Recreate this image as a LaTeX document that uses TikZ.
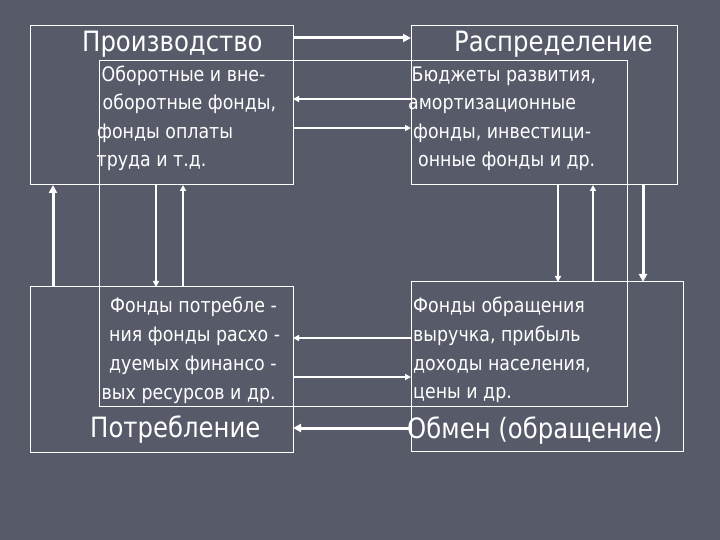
\documentclass[tikz,border=0pt]{standalone}
\usepackage{fontspec}
\setmainfont{DejaVu Sans}[FakeStretch=0.87]
\usetikzlibrary{arrows.meta,calc}
\definecolor{bgc}{HTML}{575A69}
\begin{document}
\begin{tikzpicture}[x=1bp,y=-1bp,
  box/.style={draw=white,line width=1bp,inner sep=0pt,outer sep=0pt,rectangle},
  thinarr/.style={draw=white,line width=1.6bp,-{Triangle[length=6bp,width=6bp]}},
  thickarr/.style={draw=white,line width=3bp,-{Triangle[length=8bp,width=8bp]}},
  big/.style={text=white,inner sep=0pt,anchor=base west,font=\fontsize{28bp}{30bp}\selectfont},
  small/.style={text=white,inner sep=0pt,anchor=base west,font=\fontsize{20bp}{22bp}\selectfont}]
\fill[bgc] (0,0) rectangle (720,540);
\useasboundingbox (0,0) rectangle (720,540);
% boxes
\node[box,minimum width=262bp,minimum height=159bp] (prod) at (162,105.5) {};
\node[box,minimum width=266bp,minimum height=159bp] (dist) at (544,105.5) {};
\node[box,minimum width=262bp,minimum height=165bp] (cons) at (162,369.5) {};
\node[box,minimum width=272bp,minimum height=169bp] (exch) at (547,366.5) {};
\node[box,minimum width=527bp,minimum height=345bp] (inner) at (363.5,233.5) {};
% titles
\node[big] (tprod) at (82,51.5) {Производство};
\node[big] (tdist) at (454,51.5) {Распределение};
\node[big] (tcons) at (90,437.5) {Потребление};
\node[big] (texch) at (407,438) {Обмен (обращение)};
% production text
\node[small] (p1) at (101.5,81.5) {Оборотные и вне-};
\node[small] (p2) at (102.5,110) {оборотные фонды,};
\node[small] (p3) at (97,138.5) {фонды оплаты};
\node[small] (p4) at (96.5,166.5) {труда и т.д.};
% distribution text
\node[small] (d1) at (411.5,81.5) {Бюджеты развития,};
\node[small] (d2) at (408,110) {амортизационные};
\node[small] (d3) at (413,138.5) {фонды, инвестици-};
\node[small] (d4) at (418,166.5) {онные фонды и др.};
% consumption text
\node[small] (c1) at (110,312.5) {Фонды потребле -};
\node[small] (c2) at (109,341.5) {ния фонды расхо -};
\node[small] (c3) at (109,370.5) {дуемых финансо -};
\node[small] (c4) at (101.5,399.5) {вых ресурсов и др.};
% exchange text
\node[small] (e1) at (413,312.5) {Фонды обращения};
\node[small] (e2) at (413,341) {выручка, прибыль};
\node[small] (e3) at (413,370) {доходы населения,};
\node[small] (e4) at (413,398) {цены и др.};
% horizontal arrows (top)
\draw[thickarr] (prod.east |- 0,38) -- (dist.west |- 0,38);
\draw[thinarr] (dist.west |- 0,99) -- (prod.east |- 0,99);
\draw[thinarr] (prod.east |- 0,128) -- (dist.west |- 0,128);
% vertical arrows (left)
\draw[thickarr] (53,0 |- cons.north) -- (53,0 |- prod.south);
\draw[thinarr] (156,0 |- prod.south) -- (156,0 |- cons.north);
\draw[thinarr] (183,0 |- cons.north) -- (183,0 |- prod.south);
% vertical arrows (right)
\draw[thinarr] (558,0 |- dist.south) -- (558,0 |- exch.north);
\draw[thinarr] (593,0 |- exch.north) -- (593,0 |- dist.south);
\draw[thickarr] (643,0 |- dist.south) -- (643,0 |- exch.north);
% horizontal arrows (bottom)
\draw[thinarr] (exch.west |- 0,338) -- (cons.east |- 0,338);
\draw[thinarr] (cons.east |- 0,377) -- (exch.west |- 0,377);
\draw[thickarr] (exch.west |- 0,428) -- (cons.east |- 0,428);
\end{tikzpicture}
\end{document}
